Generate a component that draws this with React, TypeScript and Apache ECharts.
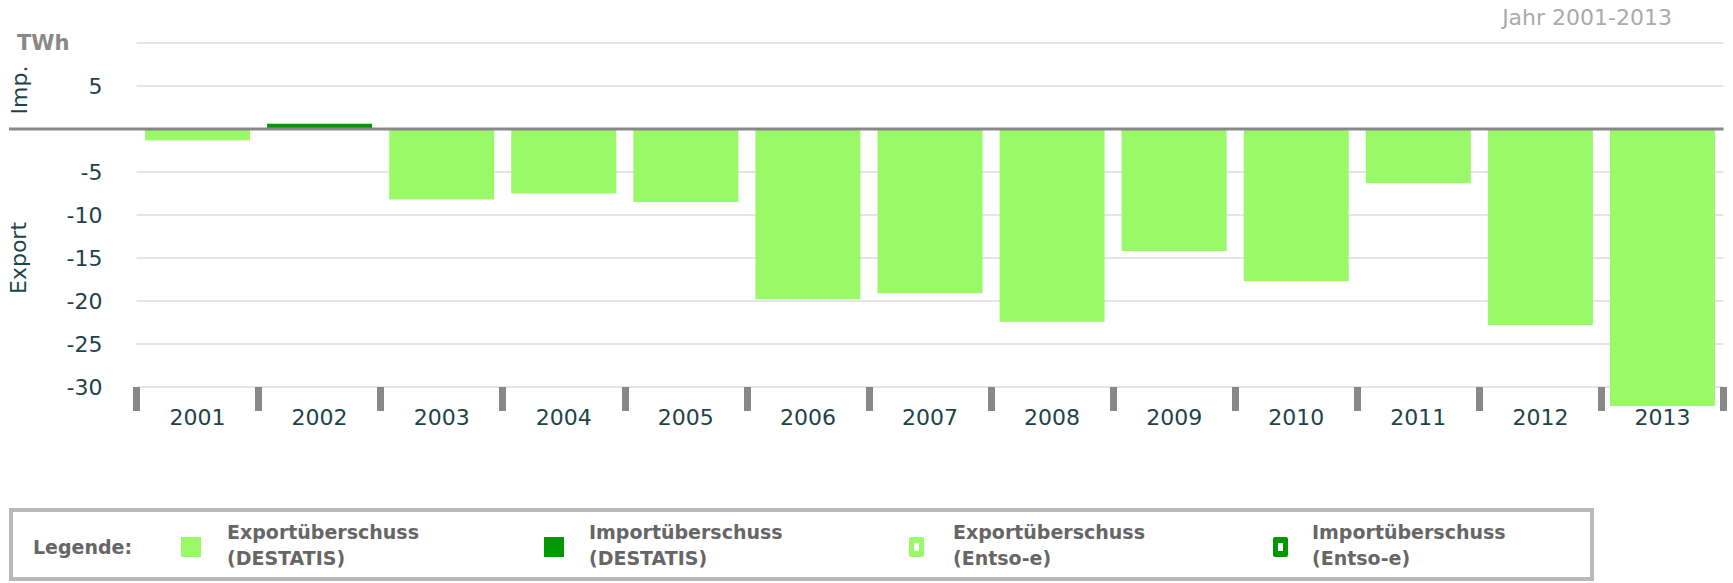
import React, { useEffect, useRef } from "react";
import * as echarts from "echarts";

const years = ["2001", "2002", "2003", "2004", "2005", "2006", "2007", "2008", "2009", "2010", "2011", "2012", "2013"];
const exportSurplusDestatis = [-1.3, null, -8.2, -7.5, -8.5, -19.8, -19.1, -22.4, -14.2, -17.7, -6.3, -22.8, -32.2];
const importSurplusDestatis = [null, 0.6, null, null, null, null, null, null, null, null, null, null, null];
const legendLabels = [
  ["Exportüberschuss", "(DESTATIS)"],
  ["Importüberschuss", "(DESTATIS)"],
  ["Exportüberschuss", "(Entso-e)"],
  ["Importüberschuss", "(Entso-e)"],
];
const unitLabel = "TWh";
const periodLabel = "Jahr 2001-2013";

const LIGHT = "#99f966";
const DARK = "#009900";
const TEXT = "#1d4449";
const FONT = "'DejaVu Sans', Verdana, sans-serif";

export default function App() {
  const ref = useRef<HTMLDivElement>(null);
  useEffect(() => {
    document.body.style.margin = "0";
    if (!ref.current) return;
    const chart = echarts.init(ref.current, null, { renderer: "svg" });
    const option: any = {
      animation: false,
      backgroundColor: "#ffffff",
      textStyle: { fontFamily: FONT },
      grid: { left: 136.5, right: 9.5, top: 43, bottom: 196, containLabel: false },
      xAxis: {
        type: "category",
        data: years,
        boundaryGap: true,
        axisLine: { show: false, onZero: false },
        axisTick: { show: true, length: 24, lineStyle: { color: "#888888", width: 7 } },
        axisLabel: { color: TEXT, fontSize: 22, margin: 19, fontFamily: FONT },
        splitLine: { show: false },
      },
      yAxis: {
        type: "value",
        min: -30,
        max: 10,
        interval: 5,
        axisLine: { show: false },
        axisTick: { show: false },
        axisLabel: {
          color: TEXT,
          fontSize: 22,
          margin: 34,
          fontFamily: FONT,
          formatter: (v: number) => (v === 0 || v === 10 ? "" : String(v)),
        },
        splitLine: { lineStyle: { color: "#dddddd", width: 1.5 } },
      },
      series: [
        {
          name: "Exportüberschuss (DESTATIS)",
          type: "bar",
          stack: "total",
          data: exportSurplusDestatis,
          barWidth: "86%",
          clip: false,
          itemStyle: { color: LIGHT },
        },
        {
          name: "Importüberschuss (DESTATIS)",
          type: "bar",
          stack: "total",
          data: importSurplusDestatis,
          barWidth: "86%",
          clip: false,
          itemStyle: { color: DARK },
        },
      ],
    };
    chart.setOption(option);

    const y0 = chart.convertToPixel({ yAxisIndex: 0 }, 0) as number;
    const xRight = 1723.5;

    const swatchX = [181, 544, 909, 1273];
    const textX = [227, 589, 953, 1312];
    const legendItems: any[] = [];
    legendLabels.forEach((lines, i) => {
      if (i < 2) {
        legendItems.push({
          type: "rect",
          shape: { x: swatchX[i], y: 537, width: 20, height: 20 },
          style: { fill: i === 0 ? LIGHT : DARK },
        });
      } else {
        legendItems.push({
          type: "rect",
          shape: { x: swatchX[i], y: 537, width: 15, height: 20, r: 2 },
          style: { fill: i === 2 ? LIGHT : DARK },
        });
        legendItems.push({
          type: "rect",
          shape: { x: swatchX[i] + 5, y: 543, width: 5, height: 8 },
          style: { fill: "#ffffff" },
        });
      }
      legendItems.push({
        type: "text",
        x: textX[i],
        y: 532,
        style: {
          text: lines[0],
          fill: "#666666",
          font: `bold 19px ${FONT}`,
          verticalAlign: "middle",
        },
      });
      legendItems.push({
        type: "text",
        x: textX[i],
        y: 558,
        style: {
          text: lines[1],
          fill: "#666666",
          font: `bold 19px ${FONT}`,
          verticalAlign: "middle",
        },
      });
    });

    chart.setOption({
      graphic: [
        {
          type: "line",
          shape: { x1: 9, y1: y0, x2: xRight, y2: y0 },
          style: { stroke: "#888888", lineWidth: 3 },
          z: 10,
        },
        {
          type: "text",
          x: 17,
          y: 43,
          style: { text: unitLabel, fill: "#888888", font: `bold 21px ${FONT}`, verticalAlign: "middle" },
        },
        {
          type: "text",
          x: 1672,
          y: 17,
          style: { text: periodLabel, fill: "#aaaaaa", font: `22px ${FONT}`, align: "right", verticalAlign: "middle" },
        },
        {
          type: "text",
          x: 19,
          y: 90,
          rotation: Math.PI / 2,
          style: { text: "Imp.", fill: TEXT, font: `22px ${FONT}`, align: "center", verticalAlign: "middle" },
        },
        {
          type: "text",
          x: 18,
          y: 258,
          rotation: Math.PI / 2,
          style: { text: "Export", fill: TEXT, font: `22px ${FONT}`, align: "center", verticalAlign: "middle" },
        },
        {
          type: "rect",
          shape: { x: 11, y: 510, width: 1581, height: 69 },
          style: { fill: "#ffffff", stroke: "#b9b9b9", lineWidth: 4 },
          z: 0,
        },
        {
          type: "text",
          x: 33,
          y: 547,
          style: { text: "Legende:", fill: "#666666", font: `bold 19px ${FONT}`, verticalAlign: "middle" },
        },
        ...legendItems,
      ],
    });

    return () => chart.dispose();
  }, []);
  return <div ref={ref} style={{ width: 1733, height: 583 }} />;
}
